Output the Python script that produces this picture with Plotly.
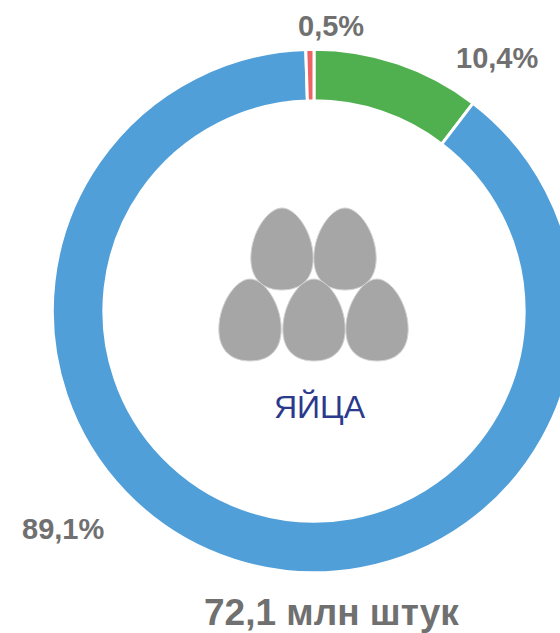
import plotly.graph_objects as go

labels = ["Категория A", "Категория B", "Категория C"]
values = [10.4, 89.1, 0.5]
colors = ["#50B050", "#519FD9", "#EE6464"]
value_labels = ["10,4%", "89,1%", "0,5%"]
center_label = "ЯЙЦА"
total_label = "72,1 млн штук"

W, H = 640, 633
CX, CY, R = 314, 311, 261.7


def egg(cx, top, bottom, half):
    h = bottom - top
    x0, x1 = cx - half, cx + half
    mid = top + h * 0.61
    path = (
        f"M {x0} {mid} "
        f"C {x0} {top + h*0.30}, {cx - half*0.45} {top}, {cx} {top} "
        f"C {cx + half*0.45} {top}, {x1} {top + h*0.30}, {x1} {mid} "
        f"C {x1} {top + h*0.88}, {cx + half*0.58} {bottom}, {cx} {bottom} "
        f"C {cx - half*0.58} {bottom}, {x0} {top + h*0.88}, {x0} {mid} Z"
    )
    return path


egg_specs = [(282, 208, 290, 31.2), (345, 208, 290, 31.2),
             (250, 279, 361, 31.2), (314, 279, 361, 31.2), (377, 279, 361, 31.2)]

fig = go.Figure(go.Pie(
    labels=labels, values=values, hole=0.803, sort=False,
    direction="clockwise", rotation=0,
    marker=dict(colors=colors, line=dict(color="white", width=3)),
    textinfo="none", hoverinfo="none", showlegend=False,
    domain=dict(x=[(CX - R) / W, (CX + R) / W], y=[1 - (CY + R) / H, 1 - (CY - R) / H]),
))

shapes = [dict(type="path", xref="x", yref="y", path=egg(*e),
               fillcolor="#A6A6A6", line=dict(color="#D4D4D4", width=1), layer="above")
          for e in egg_specs]

grey = "#707070"
font_bold = dict(family="Liberation Sans", color=grey, size=29, weight="bold")
ann = [
    dict(x=497, y=58, text=value_labels[0], font=font_bold),
    dict(x=63, y=529, text=value_labels[1], font=font_bold),
    dict(x=331, y=26, text=value_labels[2], font=font_bold),
    dict(x=320, y=407, text=center_label, font=dict(family="Liberation Sans", color="#2B3A8C", size=32)),
    dict(x=331, y=612.5, text=total_label, font=dict(family="Liberation Sans", color=grey, size=37, weight="bold")),
]
for a in ann:
    a.update(xref="x", yref="y", showarrow=False, xanchor="center", yanchor="middle")

fig.update_layout(
    width=W, height=H, autosize=False,
    margin=dict(l=0, r=0, t=0, b=0),
    paper_bgcolor="white", plot_bgcolor="rgba(0,0,0,0)",
    xaxis=dict(range=[0, W], visible=False, fixedrange=True),
    yaxis=dict(range=[H, 0], visible=False, fixedrange=True),
    shapes=shapes, annotations=ann,
)

fig.write_html("out.html", config={"displayModeBar": False},
               post_script="document.documentElement.style.overflow='hidden';document.body.style.overflow='hidden';document.body.style.margin='0';")
